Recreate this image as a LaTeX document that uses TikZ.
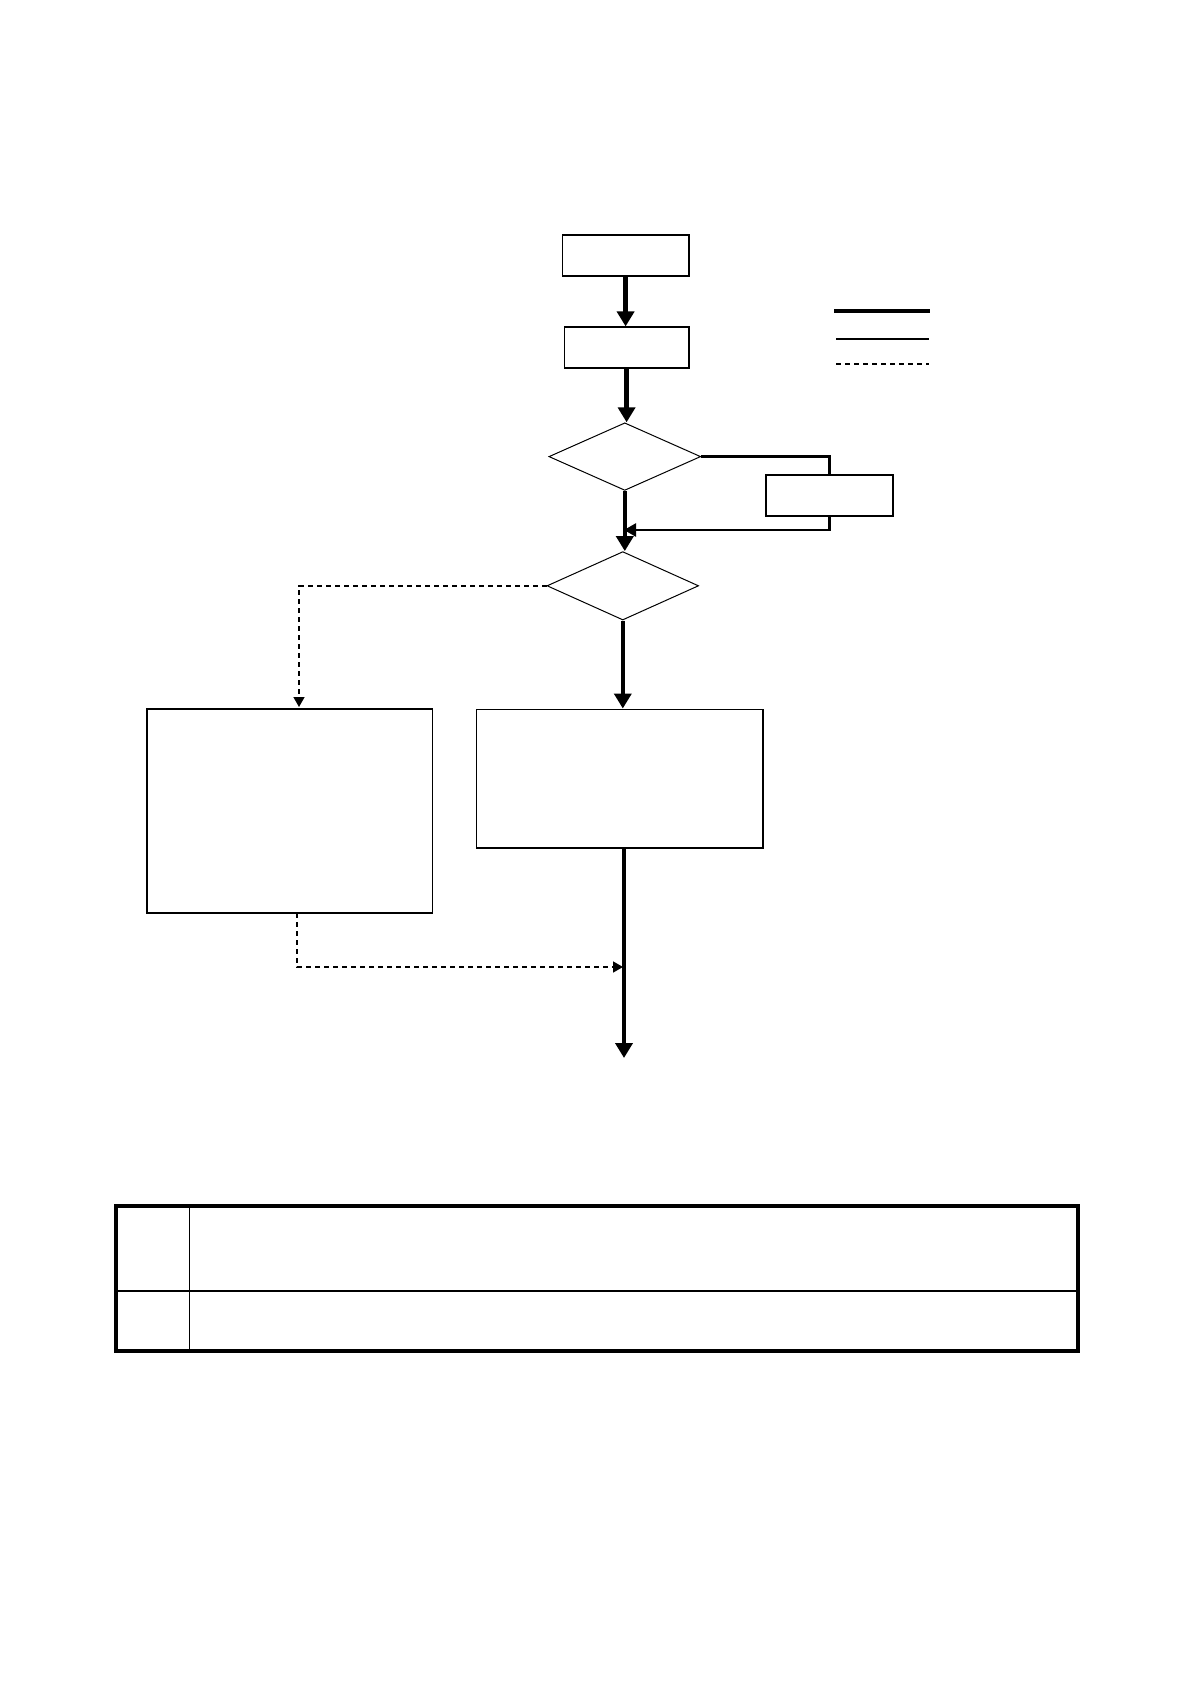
\documentclass[tikz,border=0pt]{standalone}
\usetikzlibrary{shapes.geometric,arrows.meta}
\begin{document}
\begin{tikzpicture}[x=0.5pt,y=-0.5pt,
  box/.style={draw,line width=0.8pt,inner sep=0pt},
  dia/.style={draw,diamond,line width=0.5pt,inner sep=0pt},
  thickline/.style={line width=2.2pt},
  midline/.style={line width=1.3pt},
  dashline/.style={line width=0.75pt,dash pattern=on 2.5pt off 2pt},
  bigtip/.style={-{Triangle[length=7.5pt,width=8.5pt]}},
  midtip/.style={-{Triangle[length=6pt,width=6.5pt]}},
  smalltip/.style={-{Triangle[length=5pt,width=5.5pt]}}]
\useasboundingbox (0,0) rectangle (1190,1682);
% nodes
\node[box,minimum width=63.3pt,minimum height=20.4pt] (b1) at (625.6,255.4) {};
\node[box,minimum width=62.3pt,minimum height=20.4pt] (b2) at (626.6,347.6) {};
\node[dia,minimum width=75.9pt,minimum height=33.8pt] (d1) at (624.8,456.6) {};
\node[box,minimum width=63.3pt,minimum height=20.4pt] (sb) at (829.4,495.6) {};
\node[dia,minimum width=75.8pt,minimum height=34.2pt] (d2) at (622.8,585.8) {};
\node[box,minimum width=142.7pt,minimum height=101.9pt] (lb) at (289.7,811) {};
\node[box,minimum width=143.3pt,minimum height=69.2pt] (rb) at (619.7,778.5) {};
% helper coordinates
\coordinate (j) at (624,530);
\coordinate (ltop) at (299,707);
\coordinate (lbot) at (297,913);
\coordinate (mj) at (623,967);
\coordinate (end) at (624,1058);
% connectors
\draw[thickline,bigtip] (b1.south) -- (b1.south |- b2.north);
\draw[thickline,bigtip] (b2.south) -- (b2.south |- d1.north);
\draw[midline] (d1.east) -| (sb.north);
\draw[midline,midtip] (sb.south) |- (j);
\draw[thickline,bigtip] (d1.south) -- (d1.south |- d2.north);
\draw[thickline,bigtip] (d2.south) -- (d2.south |- rb.north);
\draw[dashline,smalltip] (d2.west) -| (ltop);
\draw[thickline,bigtip] (rb.south -| end) -- (end);
\draw[dashline,smalltip] (lbot) |- (mj);
% legend
\coordinate (l1a) at (834,311); \coordinate (l1b) at (930,311);
\coordinate (l2a) at (836,339); \coordinate (l2b) at (929,339);
\coordinate (l3a) at (836,364); \coordinate (l3b) at (929,364);
\draw[line width=2.2pt] (l1a) -- (l1b);
\draw[line width=1.3pt] (l2a) -- (l2b);
\draw[dashline] (l3a) -- (l3b);
% table
\coordinate (t1) at (116,1206); \coordinate (t2) at (1078,1351);
\draw[line width=0.7pt] (116,1291) -- (1078,1291);
\draw[line width=0.5pt] (189,1206) -- (189,1351);
\draw[line width=1.6pt] (t1) rectangle (t2);
\end{tikzpicture}
\end{document}
